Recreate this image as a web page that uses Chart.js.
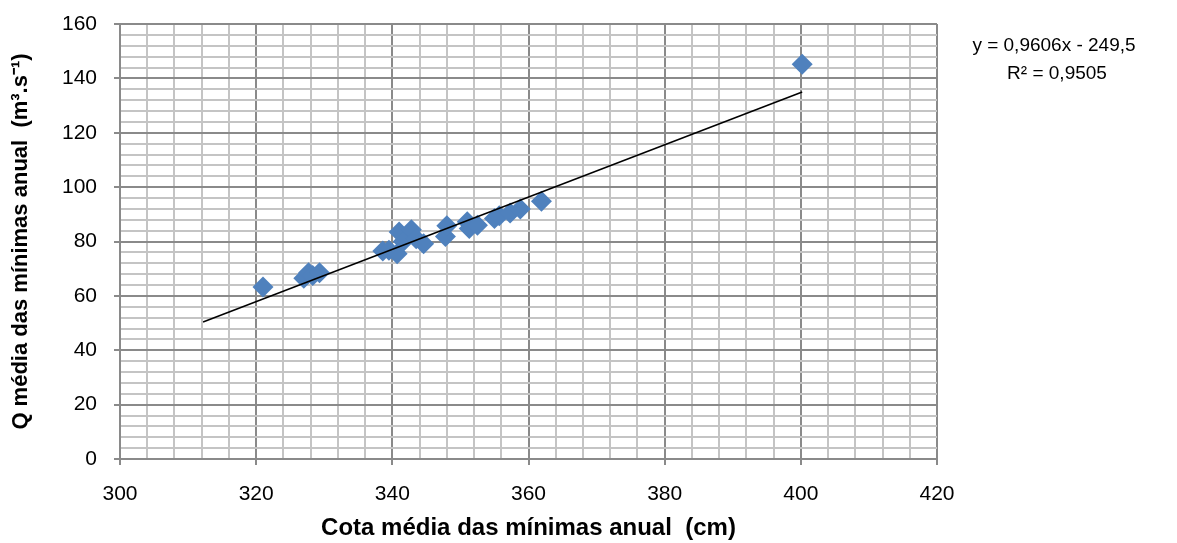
<!DOCTYPE html>
<html>
<head>
<meta charset="utf-8">
<script src="https://cdn.jsdelivr.net/npm/chart.js@4.4.1/dist/chart.umd.min.js"></script>
<style>
    html, body { margin: 0; padding: 0; background: #fff; }
    #wrap { width: 1177px; height: 543px; }
</style>
</head>
<body>
<div id="wrap"><canvas id="chart"></canvas></div>
<script>
// =============================================================
// DATA
// =============================================================
const cotaX = [321, 327, 327.7, 328.3, 329.3, 338.6, 339.5, 340.7, 341, 341.6, 342.8, 343.5,
               344.6, 347.8, 348, 351, 351.3, 352.5, 355, 355.7, 357.3, 358.8, 361.9, 400.2];
const vazaoY = [63.3, 66.5, 68.5, 67.5, 68.5, 76.5, 76.8, 75.5, 83.5, 80, 84.3, 81,
                79.2, 81.8, 85.8, 87.3, 84.8, 86, 88.5, 89.5, 90.5, 92, 94.8, 145.2];
const trendX = [312.2, 400.2];
const trendY = [50.4, 135];
const eqLines = ["y = 0,9606x - 249,5", "R² = 0,9505"];
const xTitle = "Cota média das mínimas anual  (cm)";
const yTitle = "Q média das mínimas anual  (m³.s⁻¹)";

const MAJOR = '#8a8a8a';
const MINOR = '#c4c4c4';
const FONT = '"Liberation Sans", Arial, sans-serif';

// =============================================================
// EQUATION LABEL
// =============================================================
const eqPlugin = {
    id: 'eq',
    afterDraw(chart) {
        const ctx = chart.ctx;
        ctx.save();
        ctx.fillStyle = '#000';
        ctx.font = '19px ' + FONT;
        ctx.textAlign = 'center';
        ctx.textBaseline = 'middle';
        ctx.fillText(eqLines[0], 1054, 46);
        ctx.fillText(eqLines[1], 1057, 74);
        ctx.restore();
    }
};

const isMajor = c => c.tick && c.tick.value % 20 === 0;

const gridOpts = {
    color: c => isMajor(c) ? MAJOR : MINOR,
    tickColor: c => isMajor(c) ? MAJOR : 'rgba(0,0,0,0)',
    lineWidth: 2,
    tickLength: 6
};

new Chart(document.getElementById('chart'), {
    type: 'scatter',
    data: {
        datasets: [
            {
                label: 'pontos',
                data: cotaX.map((x, i) => ({ x: x, y: vazaoY[i] })),
                pointStyle: 'rectRot',
                pointRadius: 10.5,
                backgroundColor: '#4f81bd',
                borderColor: '#4f81bd',
                borderWidth: 0,
                order: 2
            },
            {
                type: 'line',
                label: 'tendencia',
                data: trendX.map((x, i) => ({ x: x, y: trendY[i] })),
                borderColor: '#000',
                borderWidth: 1.5,
                pointRadius: 0,
                fill: false,
                order: 1
            }
        ]
    },
    options: {
        responsive: true,
        maintainAspectRatio: false,
        animation: false,
        layout: { padding: { top: 24, right: 240, left: 0, bottom: 0 } },
        plugins: {
            legend: { display: false },
            tooltip: { enabled: false }
        },
        scales: {
            x: {
                type: 'linear',
                min: 300, max: 420,
                grid: gridOpts,
                border: { color: MAJOR, width: 2 },
                ticks: {
                    stepSize: 4,
                    maxTicksLimit: 100,
                    autoSkip: false,
                    maxRotation: 0,
                    color: '#000',
                    padding: 17,
                    font: { family: FONT, size: 21 },
                    callback: v => (v % 20 === 0 ? String(v) : '')
                },
                title: {
                    display: true,
                    text: xTitle,
                    color: '#000',
                    padding: { top: 6, bottom: 0 },
                    font: { family: FONT, size: 24, weight: 'bold' }
                },
                afterFit: s => {
                    s.height = 84;
                    s.paddingLeft = 0;
                    s.paddingRight = 0;
                }
            },
            y: {
                min: 0, max: 160,
                grid: gridOpts,
                border: { color: MAJOR, width: 2 },
                ticks: {
                    stepSize: 4,
                    maxTicksLimit: 100,
                    autoSkip: false,
                    color: '#000',
                    padding: 17,
                    font: { family: FONT, size: 21 },
                    callback: v => (v % 20 === 0 ? String(v) : '')
                },
                title: {
                    display: true,
                    text: yTitle,
                    color: '#000',
                    padding: { top: 8, bottom: 0 },
                    font: { family: FONT, size: 22, weight: 'bold' }
                },
                afterFit: s => {
                    s.width = 120;
                    s.paddingTop = 0;
                    s.paddingBottom = 0;
                }
            }
        }
    },
    plugins: [eqPlugin]
});
</script>
</body>
</html>
